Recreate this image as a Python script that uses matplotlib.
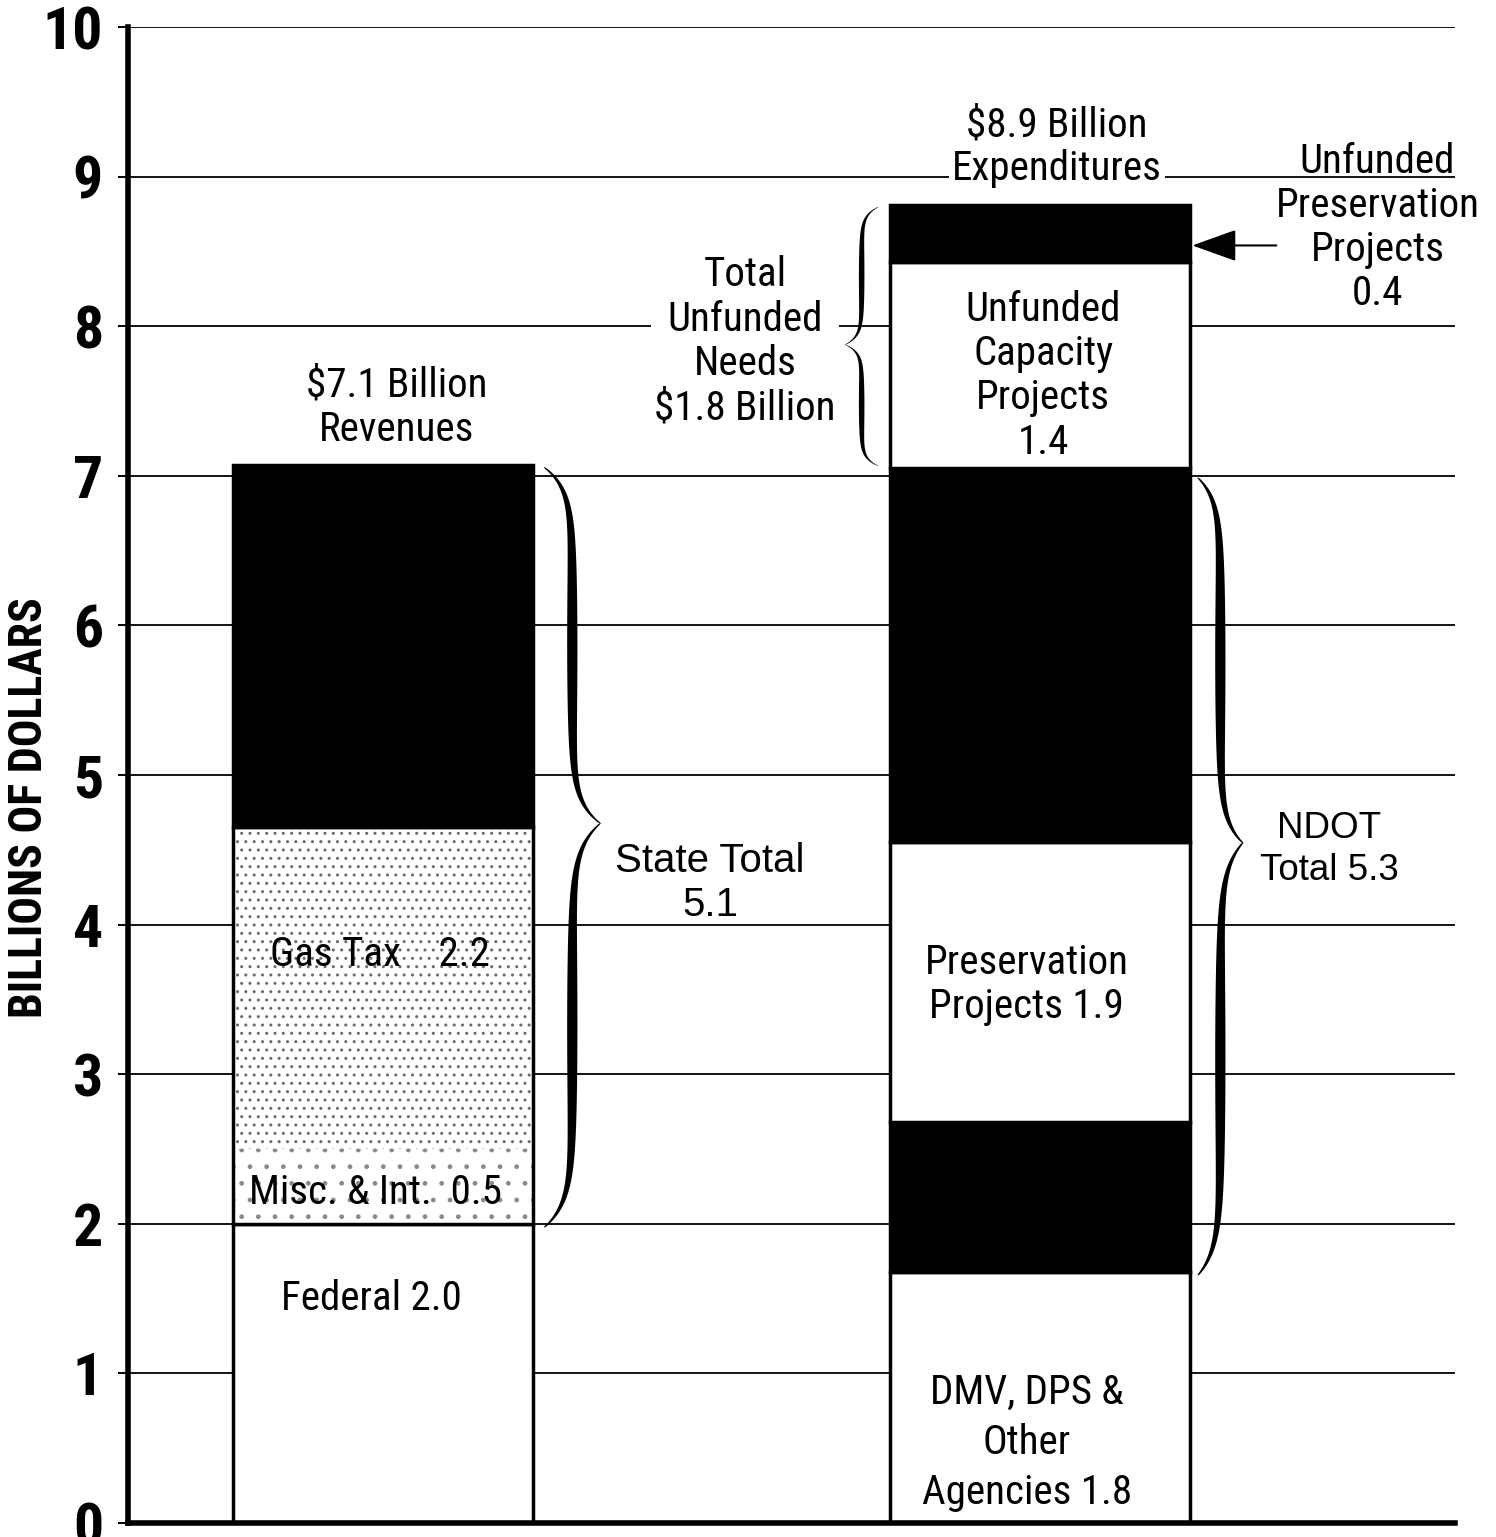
import numpy as np
import matplotlib
matplotlib.use('Agg')
import matplotlib.pyplot as plt
from matplotlib import font_manager

# ---- data ----
bar_pos = [0, 1]
rev_names = ['Federal', 'Misc. & Int.', 'Gas Tax', 'Other State']
rev_values = [2.0, 0.5, 2.15, 2.42]
exp_names = ['DMV, DPS & Other Agencies', 'NDOT Other', 'Preservation Projects',
             'Capacity Projects', 'Unfunded Capacity Projects', 'Unfunded Preservation Projects']
exp_values = [1.68, 1.0, 1.87, 2.5, 1.38, 0.38]
yticks = list(range(0, 11))

# fonts: narrow face for most labels, regular for the two totals
names = {f.name for f in font_manager.fontManager.ttflist}
narrow_pick = [n for n in ['Roboto Condensed', 'Archivo Narrow', 'PT Sans Narrow'] if n in names]
NARROW = narrow_pick[:1] + ['DejaVu Sans']
REG = ['Liberation Sans', 'DejaVu Sans']

fig = plt.figure(figsize=(14.96, 15.37), dpi=100)
ax = fig.add_axes([0.0856, 0.0091, 0.887, 0.9733])
ax.set_xlim(-0.388, 1.632)
ax.set_ylim(0, 10)

W = 0.457

# revenue bar
rev_bottoms = np.concatenate([[0], np.cumsum(rev_values)[:-1]])
rev_face = ['white', 'white', 'white', 'black']
rev_hatch = [None, '.', '..', None]
rev_edge = ['black', '#8a8a8a', '#6a6a6a', 'black']
for i in range(len(rev_values)):
    lw = 0 if rev_hatch[i] else 2.5
    ax.bar(bar_pos[0], rev_values[i], W, bottom=rev_bottoms[i], color=rev_face[i],
           edgecolor=rev_edge[i], linewidth=lw, hatch=rev_hatch[i], zorder=2)
# outline of the stippled block (misc + gas)
ax.bar(bar_pos[0], rev_values[1] + rev_values[2], W, bottom=rev_bottoms[1], fill=False,
       edgecolor='black', linewidth=2.5, zorder=2.1)

# expenditure bar
exp_bottoms = np.concatenate([[0], np.cumsum(exp_values)[:-1]])
exp_face = ['white', 'black', 'white', 'black', 'white', 'black']
for i in range(len(exp_values)):
    ax.bar(bar_pos[1], exp_values[i], W, bottom=exp_bottoms[i], color=exp_face[i],
           edgecolor='black', linewidth=2.5, zorder=2)

# axes styling
ax.set_yticks(yticks)
ax.set_yticklabels([str(t) for t in yticks], fontsize=43, fontweight='bold', family=NARROW)
ax.set_xticks([])
ax.tick_params(axis='y', length=7, width=1.4, pad=11, direction='out')
ax.grid(axis='y', color='black', linewidth=1.3)
ax.set_axisbelow(True)
for s in ['top', 'right']:
    ax.spines[s].set_visible(False)
for s in ['left', 'bottom']:
    ax.spines[s].set_linewidth(4)

fig.text(29 / 1496, 1 - 808 / 1537, 'BILLIONS OF DOLLARS', rotation=90, ha='center', va='center',
         fontsize=33, fontweight='bold', family=NARROW)


def brace(x0, y0, y1, ytip, width, thick, a=0.06):
    # curly brace, ends at x0, tip at x0 + width (negative width points left)
    arm = x0 + width * 0.5
    tip = x0 + width
    for yend in (y1, y0):
        s = np.linspace(0, 1, 300)
        y = ytip + s * (yend - ytip)
        x = arm + (tip - arm) * np.exp(-s / a) + (x0 - arm) * np.exp(-(1 - s) / a)
        th = thick * np.sin(np.pi * s) ** 0.7 + thick * 0.2
        if yend < ytip:
            y, x, th = y[::-1], x[::-1], th[::-1]
        ax.fill_betweenx(y, x - th / 2, x + th / 2, color='black', linewidth=0, zorder=3)


brace(0.245, 1.98, 7.06, 4.68, 0.085, 0.013)
brace(1.24, 1.66, 6.99, 4.55, 0.068, 0.013)
brace(0.753, 7.07, 8.8, 7.88, -0.05, 0.007)

# arrow to unfunded preservation
ax.annotate('', xy=(1.232, 8.54), xytext=(1.36, 8.54),
            arrowprops=dict(arrowstyle='-|>,head_length=1.4,head_width=0.5', color='black',
                            lw=1.5, mutation_scale=20, shrinkA=0, shrinkB=0), zorder=4)

nk = dict(fontsize=29.5, family=NARROW, ha='center', va='center', zorder=4, linespacing=1.17)
ax.text(0.021, 7.46, '$7.1 Billion\nRevenues', **nk)
ax.text(1.026, 9.2, '$8.9 Billion\nExpenditures',
        bbox=dict(facecolor='white', edgecolor='none', pad=2), **nk)
ax.text(0.551, 7.9, 'Total\nUnfunded\nNeeds\n$1.8 Billion',
        bbox=dict(facecolor='white', edgecolor='none', pad=2), **nk)
ax.text(1.005, 7.67, 'Unfunded\nCapacity\nProjects\n1.4', **nk)
ax.text(1.514, 8.66, 'Unfunded\nPreservation\nProjects\n0.4', **nk)
ax.text(-0.005, 3.8, 'Gas Tax    2.2', **nk)
ax.text(-0.012, 2.21, 'Misc. & Int.  0.5', **nk)
ax.text(-0.017, 1.5, 'Federal 2.0', **nk)
ax.text(0.98, 3.6, 'Preservation\nProjects 1.9', **nk)
nk2 = dict(nk)
nk2['linespacing'] = 1.35
ax.text(0.98, 0.54, 'DMV, DPS &\nOther\nAgencies 1.8', **nk2)

ax.text(0.498, 4.28, 'State Total\n5.1', fontsize=29, family=REG, ha='center', va='center',
        zorder=4, linespacing=1.2)
ax.text(1.441, 4.5, 'NDOT\nTotal 5.3', fontsize=26.5, family=REG, ha='center', va='center',
        zorder=4, linespacing=1.25)

fig.savefig('out.png', dpi=100)
